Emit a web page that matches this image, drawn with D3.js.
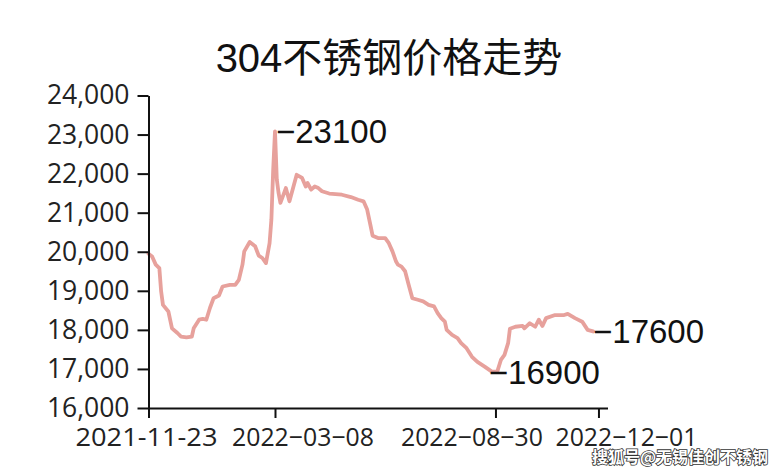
<!DOCTYPE html>
<html>
<head>
<meta charset="utf-8">
<script src="https://cdn.jsdelivr.net/npm/d3@7/dist/d3.min.js"></script>
<style>
  html, body { margin: 0; padding: 0; background: #fff; }
  svg { display: block; }
</style>
</head>
<body>
<svg id="chart" width="781" height="470"></svg>
<script>
// ---- data (trading-day index since 2021-11-23, price in 元/吨) ----
const title = "304不锈钢价格走势";
const days = [0,2,4,6,7,8,11,13,16,18,21,24,25,28,30,32,34,36,39,41,45,48,50,52,53,56,59,61,63,65,
  67,68,69,70,71,72,73,75,76,78,80,82,85,87,88,90,92,94,96,100,107,112,116,119,121,123,124,127,131,133,
  135,137,138,140,142,144,146,149,152,155,158,160,162,164,165,168,171,173,176,179,182,186,190,193,195,197,199,200,203,207,
  208,211,214,216,218,220,225,230,232,236,240,243,246];
const prices = [19950,19880,19670,19580,18980,18640,18470,18040,17920,17830,17810,17830,18040,18260,18280,18260,18560,18810,18880,19110,19150,19150,19280,19670,20010,20250,20140,19900,19840,19710,
  20220,20820,22100,23080,21850,21500,21250,21500,21630,21290,21630,21970,21890,21670,21760,21590,21670,21630,21550,21490,21460,21400,21330,21290,21080,20640,20410,20350,20350,20220,
  20010,19750,19670,19620,19500,19150,18810,18770,18730,18640,18600,18430,18300,18210,18000,17870,17790,17660,17530,17310,17180,17060,16930,16930,17230,17360,17660,18030,18080,18100,
  18040,18170,18080,18260,18100,18300,18380,18380,18410,18300,18210,18000,17960];
const xTickDays = [0, 70, 192, 249];
const xTickLabels = ["2021-11-23", "2022\u221203\u221208", "2022\u221208\u221230", "2022\u221212\u221201"];
const yTicks = [16000,17000,18000,19000,20000,21000,22000,23000,24000];
const annotations = [
  { day: 70, text: "\u221223100" },
  { day: 190, text: "\u221216900" },
  { day: 246, text: "\u221217600" }
];
const watermark = "搜狐号@无锡佳创不锈钢";

// ---- drawing ----
const svg = d3.select("#chart");
const data = days.map((d, i) => ({ day: d, price: prices[i] }));

const x = d3.scaleLinear().domain([0, 254]).range([148.5, 607.5]);
const y = d3.scaleLinear().domain([16000, 24000]).range([408, 95.5]);

// title
svg.append("text")
  .attr("x", 389).attr("y", 72)
  .attr("text-anchor", "middle")
  .attr("font-family", "'Liberation Sans', 'Noto Sans CJK SC', sans-serif")
  .attr("font-size", 40)
  .attr("fill", "#111")
  .text(title);

// line
const line = d3.line().x(d => x(d.day)).y(d => y(d.price)).curve(d3.curveLinear);
svg.append("path")
  .datum(data)
  .attr("d", line)
  .attr("fill", "none")
  .attr("stroke", "#e7a19c")
  .attr("stroke-width", 3.8)
  .attr("stroke-linejoin", "round")
  .attr("stroke-linecap", "round");

// y axis
const yAxis = svg.append("g")
  .attr("transform", `translate(${x(0)},0)`)
  .call(d3.axisLeft(y).tickValues(yTicks).tickFormat(d3.format(",")).tickSize(11).tickPadding(8).tickSizeOuter(0));
yAxis.selectAll("text")
  .attr("font-family", "'Open Sans', sans-serif")
  .attr("font-size", 26.5)
  .attr("fill", "#222");

// x axis
const xAxis = svg.append("g")
  .attr("transform", `translate(0,${y(16000)})`)
  .call(d3.axisBottom(x).tickValues(xTickDays).tickFormat("").tickSize(10).tickSizeOuter(0));

[yAxis, xAxis].forEach(g => {
  g.select(".domain").attr("stroke", "#111").attr("stroke-width", 2);
  g.selectAll(".tick line").attr("stroke", "#111").attr("stroke-width", 2);
});

// x tick labels (placed as in the reference, slightly shifted from their ticks)
const labelShift = [-2, 28, -23.5, 28];
svg.append("g").selectAll("text")
  .data(xTickDays)
  .join("text")
  .attr("x", (d, i) => x(d) + labelShift[i])
  .attr("y", 446)
  .attr("text-anchor", "middle")
  .attr("font-family", "'Open Sans', sans-serif")
  .attr("font-size", 25)
  .attr("fill", "#222")
  .attr("textLength", 142)
  .attr("lengthAdjust", "spacingAndGlyphs")
  .text((d, i) => xTickLabels[i]);

// value annotations
const annDx = [1, -3, 0];
svg.append("g").selectAll("text")
  .data(annotations)
  .join("text")
  .attr("x", (a, i) => x(a.day) + annDx[i])
  .attr("y", a => y(prices[days.indexOf(a.day)]) + 12)
  .attr("font-family", "'Liberation Sans', sans-serif")
  .attr("font-size", 33)
  .attr("fill", "#111")
  .text(a => a.text);

// watermark
svg.append("text")
  .attr("x", 768).attr("y", 463)
  .attr("text-anchor", "end")
  .attr("font-family", "'Noto Sans CJK SC', sans-serif")
  .attr("font-size", 16)
  .attr("font-weight", "bold")
  .attr("fill", "#fff")
  .attr("stroke", "#333")
  .attr("stroke-width", 1.6)
  .attr("paint-order", "stroke")
  .text(watermark);
</script>
</body>
</html>
